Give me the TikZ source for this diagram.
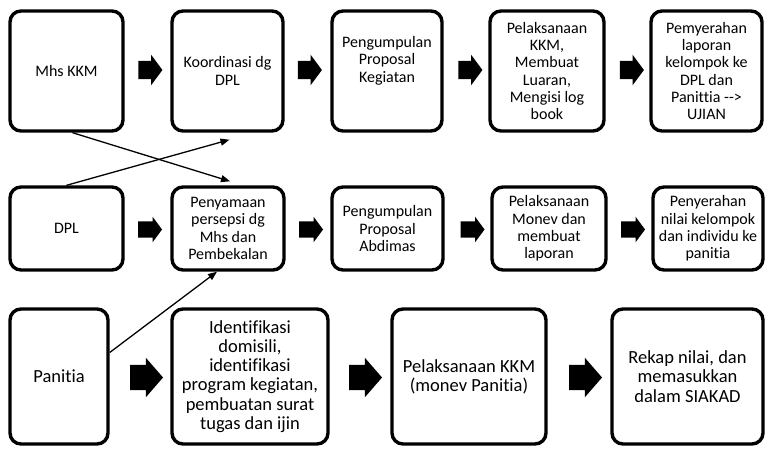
\documentclass[tikz,border=0pt]{standalone}
\usepackage{fontspec}
\setmainfont{Carlito}[Ligatures={NoCommon}]
\usetikzlibrary{shapes.arrows, arrows.meta}
\tikzset{
  box/.style={draw, line width=3.4pt, rounded corners=11pt, align=center, inner sep=2pt,
    font=\fontsize{16}{17.3}\selectfont},
  bigbox/.style={box, font=\fontsize{18.5}{19.2}\selectfont},
  blockarr/.style={single arrow, fill=black, draw=none, inner xsep=0pt,
    inner ysep=9pt, single arrow head extend=6pt, single arrow head indent=0pt,
    single arrow tip angle=107, minimum height=24pt},
  bigblockarr/.style={blockarr, inner ysep=12.5pt, single arrow head extend=7pt,
    single arrow tip angle=98, minimum height=33pt},
  link/.style={line width=1.3pt, -{Triangle[length=9pt,width=7pt]}}
}
\begin{document}
\begin{tikzpicture}[x=1pt, y=-1pt]
                \useasboundingbox (0,0) rectangle (766,448);

                % row 1
                \node[box, minimum width=113pt, minimum height=120pt] (B11) at (66.5,71) {Mhs KKM};
                \node[box, minimum width=111pt, minimum height=120pt] (B12) at (227.5,71) {Koordinasi dg\\DPL};
                \node[box, minimum width=110pt, minimum height=120pt] (B13) at (387,71) {Pengumpulan\\Proposal\\Kegiatan\\[6pt]};
                \node[box, minimum width=114pt, minimum height=120pt] (B14) at (547,71) {Pelaksanaan\\KKM,\\Membuat\\Luaran,\\Mengisi log\\book};
                \node[box, minimum width=111pt, minimum height=120pt] (B15) at (706.5,71) {Pemyerahan\\laporan\\kelompok ke\\DPL dan\\Panittia -\kern0pt-\kern0pt>\\UJIAN};

                \node[blockarr] (A11) at (147,70) {};
                \node[blockarr] (A12) at (306.5,70) {};
                \node[blockarr] (A13) at (467,70) {};
                \node[blockarr] (A14) at (628.5,70) {};

                % row 2
                \node[box, minimum width=113pt, minimum height=83pt] (B21) at (66.5,228.5) {DPL};
                \node[box, minimum width=112pt, minimum height=83pt] (B22) at (228,228.5) {Penyamaan\\persepsi dg\\Mhs dan\\Pembekalan};
                \node[box, minimum width=111pt, minimum height=83pt] (B23) at (387.5,228.5) {Pengumpulan\\Proposal\\Abdimas};
                \node[box, minimum width=114pt, minimum height=83pt] (B24) at (549,228.5) {Pelaksanaan\\Monev dan\\membuat\\laporan};
                \node[box, minimum width=110pt, minimum height=83pt] (B25) at (708,228.5) {Penyerahan\\nilai kelompok\\dan individu ke\\panitia};

                \node[blockarr, inner ysep=8pt, single arrow head extend=4.5pt] (A21) at (147,229.5) {};
                \node[blockarr, inner ysep=8pt, single arrow head extend=4.5pt] (A22) at (308,229.5) {};
                \node[blockarr, inner ysep=8pt, single arrow head extend=4.5pt] (A23) at (469.5,229.5) {};
                \node[blockarr, inner ysep=8pt, single arrow head extend=4.5pt] (A24) at (630,229.5) {};

                % row 3
                \node[bigbox, minimum width=98pt, minimum height=135pt] (B31) at (59,376.5) {Panitia};
                \node[bigbox, minimum width=156pt, minimum height=135pt] (B32) at (250,376.5) {Identifikasi\\domisili,\\identifikasi\\program kegiatan,\\pembuatan surat\\tugas dan ijin};
                \node[bigbox, minimum width=154pt, minimum height=135pt] (B33) at (469,376.5) {Pelaksanaan KKM\\(monev Panitia)};
                \node[bigbox, minimum width=151pt, minimum height=135pt] (B34) at (687.5,376.5) {Rekap nilai, dan\\memasukkan\\dalam SIAKAD};

                \node[bigblockarr] (A31) at (141,377.5) {};
                \node[bigblockarr] (A32) at (360,377.5) {};
                \node[bigblockarr] (A33) at (580,377.5) {};

                % crossing links
                \draw[link] ([xshift=6pt]B11.south) -- ([xshift=2pt,yshift=4pt]B22.north);
                \draw[link] (B21.north) -- ([xshift=2pt,yshift=-7pt]B12.south);
                \draw[link] ([yshift=24pt]B31.east) -- ([xshift=-11pt]B22.south);
            \end{tikzpicture}
\end{document}
